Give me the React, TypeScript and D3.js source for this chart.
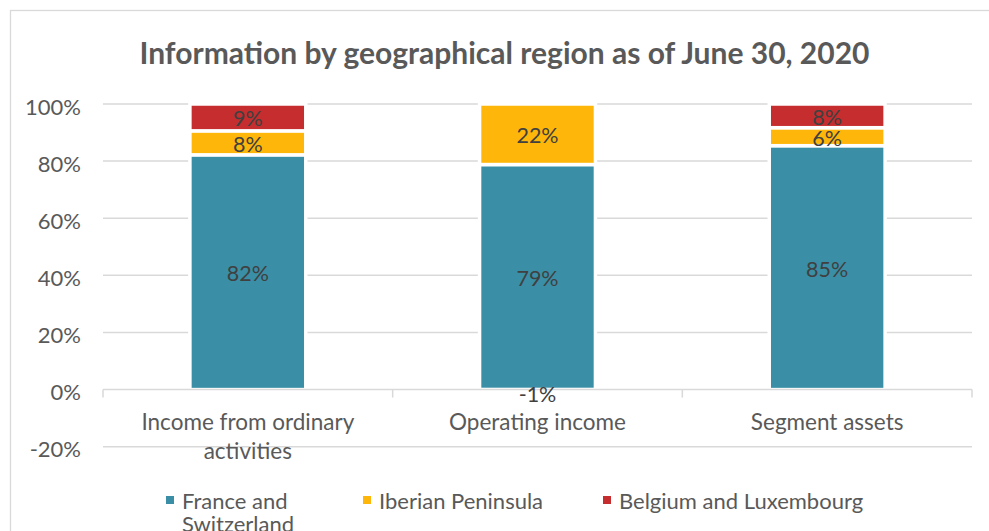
import React from "react";
import * as d3 from "d3";

const title = "Information by geographical region as of June 30, 2020";
const categories = ["Income from ordinary activities", "Operating income", "Segment assets"];
const seriesNames = ["France and Switzerland", "Iberian Peninsula", "Belgium and Luxembourg"];
const franceSwitzerland = [82.2, 78.8, 85.4];
const iberianPeninsula = [8.4, 22.0, 6.3];
const belgiumLuxembourg = [9.4, -0.8, 8.3];
const yTicks = [-20, 0, 20, 40, 60, 80, 100];
const colors = ["#3A8FA6", "#FFB60A", "#C62D2E"];

const W = 989;
const H = 531;
const FONT = "Lato, 'Open Sans', sans-serif";

function wrap(text: string, maxChars: number): string[] {
  const words = text.split(" ");
  const lines: string[] = [];
  let cur = "";
  for (const w of words) {
    const t = cur ? cur + " " + w : w;
    if (t.length > maxChars && cur) {
      lines.push(cur);
      cur = w;
    } else cur = t;
  }
  if (cur) lines.push(cur);
  return lines;
}

export default function App() {
  const rows = categories.map((c, i) => ({
    cat: c,
    s0: franceSwitzerland[i],
    s1: iberianPeninsula[i],
    s2: belgiumLuxembourg[i],
  }));
  const stack = d3.stack<any>().keys(["s0", "s1", "s2"]).offset(d3.stackOffsetDiverging);
  const series = stack(rows);

  const x = d3.scaleBand<string>().domain(categories).range([103, 972]).padding(0);
  const y = d3.scaleLinear().domain([-20, 100]).range([446.7, 104]).clamp(true);
  const bw = x.bandwidth() * 0.4;
  const fmt = (v: number) => `${Math.round(v)}%`;

  const boundaries = [...categories.map((c) => x(c) as number), 972];
  const legendX = [166, 363, 603];
  const legendWrap = [12, 40, 40];

  return (
    <svg width={W} height={H} style={{ position: "absolute", left: 0, top: 0 }} fontFamily={FONT}>
      <rect x={0} y={0} width={W} height={H} fill="#fff" />
      <rect x={10.5} y={10.5} width={988} height={540} fill="#fff" stroke="#d9d9d9" strokeWidth={1.3} />
      <text x={504.5} y={52} textAnchor="middle" dominantBaseline="central" fontSize={30} fontWeight="bold" fill="#595959">
        {title}
      </text>
      {yTicks.map((t) => (
        <g key={t}>
          {t !== 0 && <line x1={103} x2={972} y1={y(t)} y2={y(t)} stroke="#d9d9d9" strokeWidth={1.5} />}
          <text x={81} y={y(t) + 2} textAnchor="end" dominantBaseline="central" fontSize={22} fill="#595959">
            {`${t}%`}
          </text>
        </g>
      ))}
      {series.map((s, si) =>
        s.map((d, i) => {
          const cx = (x(rows[i].cat) as number) + x.bandwidth() / 2;
          const y0 = y(Math.min(d[0], d[1]));
          const y1 = y(Math.max(d[0], d[1]));
          return (
            <rect key={`${si}-${i}`} x={cx - bw / 2} y={y1} width={bw} height={Math.max(0, y0 - y1)}
              fill={colors[si]} stroke="#fff" strokeWidth={3.5} />
          );
        })
      )}
      <line x1={103} x2={972} y1={y(0)} y2={y(0)} stroke="#d9d9d9" strokeWidth={1.5} />
      {boundaries.map((bx, i) => (
        <line key={i} x1={bx} x2={bx} y1={y(0)} y2={y(0) + 8} stroke="#d9d9d9" strokeWidth={1.5} />
      ))}
      {series.map((s, si) =>
        s.map((d, i) => {
          const cx = (x(rows[i].cat) as number) + x.bandwidth() / 2;
          const v = d.data[`s${si}`];
          const lo = y(Math.min(d[0], d[1]));
          const hi = y(Math.max(d[0], d[1]));
          let cy = (lo + hi) / 2;
          if (v < 0) cy = cy + 2;
          return (
            <text key={`l${si}-${i}`} x={cx} y={cy + 1} textAnchor="middle" dominantBaseline="central" fontSize={21.5} fill="#404040">
              {fmt(v)}
            </text>
          );
        })
      )}
      {categories.map((c) => {
        const cx = (x(c) as number) + x.bandwidth() / 2;
        return wrap(c, 20).map((line, li) => (
          <text key={c + li} x={cx} y={421.5 + li * 28.5} textAnchor="middle" dominantBaseline="central" fontSize={22.5} fill="#595959">
            {line}
          </text>
        ));
      })}
      {seriesNames.map((n, i) => (
        <g key={n}>
          <rect x={legendX[i]} y={496} width={8} height={8} fill={colors[i]} />
          {wrap(n, legendWrap[i]).map((line, li) => (
            <text key={li} x={legendX[i] + 16} y={500 + li * 23} dominantBaseline="central" fontSize={22} fill="#595959">
              {line}
            </text>
          ))}
        </g>
      ))}
    </svg>
  );
}
